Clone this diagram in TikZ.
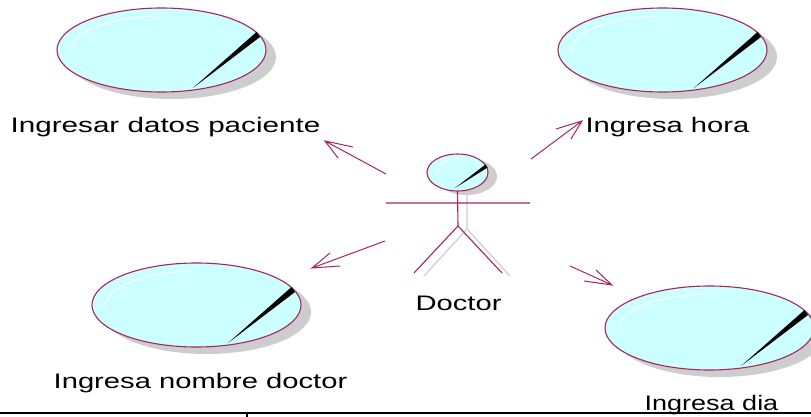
\documentclass[tikz,border=0pt]{standalone}
\usepackage{fontspec}
\setmainfont{Liberation Sans}
\usetikzlibrary{shapes.geometric}
\definecolor{rosered}{HTML}{A8265E}
\definecolor{rosefill}{HTML}{CCFFFF}
\definecolor{roseshadow}{HTML}{CDCDCD}
\tikzset{
  lbl/.style={font=\fontsize{21}{21}\selectfont,anchor=base,inner sep=0pt,xscale=1.39,transform shape,text=black},
  ucbody/.style={ellipse,draw=rosered,fill=rosefill,line width=1.1pt,inner sep=0pt,minimum width=209pt,minimum height=84pt},
  ucshadow/.style={ellipse,fill=roseshadow,inner sep=0pt,minimum width=209pt,minimum height=84pt},
  headbody/.style={ellipse,draw=rosered,fill=rosefill,line width=1.1pt,inner sep=0pt,minimum width=61pt,minimum height=37pt},
  headshadow/.style={ellipse,fill=roseshadow,inner sep=0pt,minimum width=61pt,minimum height=37pt},
  shine/.style={draw=white,line width=1pt},
  assoc/.style={draw=rosered,line width=1pt},
  stick/.style={draw=rosered,line width=1.1pt},
  stickshadow/.style={draw=roseshadow,line width=1.2pt},
  frameline/.style={draw=black,line width=2.6pt},
}
\newcommand{\usecase}[3]{%
  \node[ucshadow] (#1s) at (#2+10,#3+7) {};
  \node[ucbody] (#1) at (#2,#3) {};
  \path[shine] (#2-91.5,#3+2) .. controls (#2-88,#3-24) and (#2-40,#3-33) .. (#2-3.5,#3-34);
  \fill[black] (#2+31.5,#3+38) -- (#2+95,#3-18) -- (#2+98.5,#3-13) -- cycle;
}
\begin{document}
\begin{tikzpicture}[x=1pt,y=-1pt]
\useasboundingbox (0,0) rectangle (811,417);
\clip (0,0) rectangle (811,417);
\fill[white] (0,0) rectangle (811,417);

\usecase{ucA}{161.5}{50}
\usecase{ucB}{662.5}{50}
\usecase{ucC}{196.5}{305}
\usecase{ucD}{709.5}{328}

\node[lbl,xscale=1.015] (lA) at (165.5,132) {Ingresar datos paciente};
\node[lbl] (lB) at (667.5,132) {Ingresa hora};
\node[lbl] (lC) at (200.5,388) {Ingresa nombre doctor};
\node[lbl,xscale=0.925] (lD) at (711.5,410) {Ingresa dia};
\node[lbl] (lE) at (458.5,310) {Doctor};

% actor
\coordinate (hipS) at (467,229);
\coordinate (neckS) at (467,195);
\coordinate (footSL) at (424,276);
\coordinate (footSR) at (510,276);
\path[stickshadow] (neckS) -- (hipS) (footSL) -- (hipS) -- (footSR);
\node[headshadow] (headS) at (466.5,176.5) {};
\coordinate (hip) at (458,226);
\coordinate (footL) at (414,273);
\coordinate (footR) at (502,273);
\coordinate (armL) at (386,203);
\coordinate (armR) at (530,203);
\node[headbody] (head) at (457.5,172.5) {};
\path[shine] (437,172) .. controls (438,163) and (448,159) .. (459,159);
\fill[black] (455,188) -- (485.5,164.5) -- (487.5,167.5) -- cycle;
\path[stick] (head.south) -- (hip) (footL) -- (hip) -- (footR) (armL) -- (armR);

% associations
\coordinate (t1) at (386,174); \coordinate (h1) at (325,141);
\coordinate (b1a) at (353,147); \coordinate (b1b) at (338,158);
\coordinate (t2) at (531,159); \coordinate (h2) at (582,121);
\coordinate (b2a) at (556,129); \coordinate (b2b) at (571,139);
\coordinate (t3) at (385,241); \coordinate (h3) at (312,268);
\coordinate (b3a) at (330,253); \coordinate (b3b) at (340,266);
\coordinate (t4) at (570,266); \coordinate (h4) at (612,285);
\coordinate (b4a) at (596,270); \coordinate (b4b) at (584,281);
\foreach \i in {1,2,3,4}
  \path[assoc] (t\i) -- (h\i) (b\i a) -- (h\i) -- (b\i b);

% frame fragment
\coordinate (fl) at (0,412.8);
\coordinate (fr) at (811,412.8);
\coordinate (ft) at (247,412.8);
\coordinate (fb) at (247,417);
\path[frameline] (fl) -- (fr);
\draw[black,line width=1.5pt] (ft) -- (fb);
\end{tikzpicture}
\end{document}
